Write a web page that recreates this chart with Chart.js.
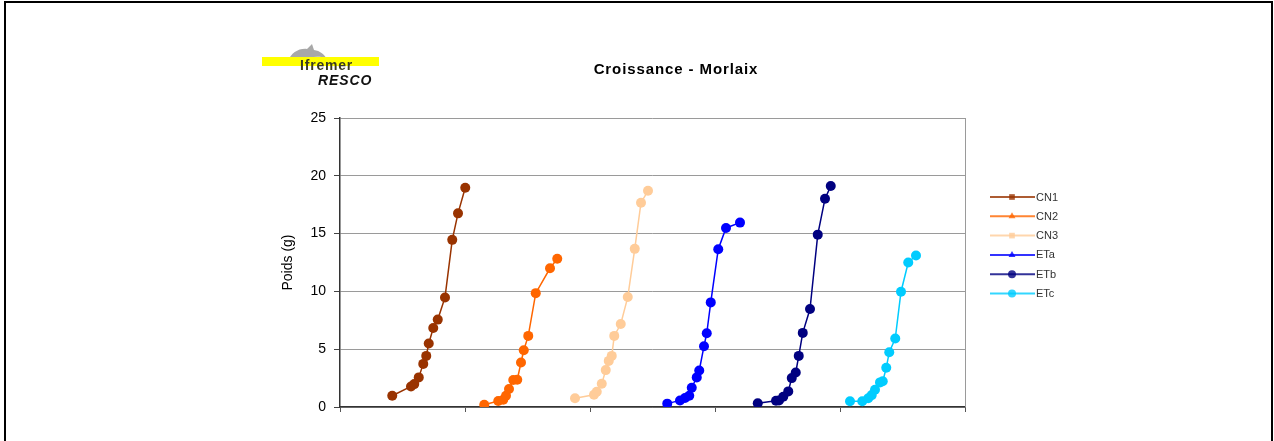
<!DOCTYPE html>
<html>
<head>
<meta charset="utf-8">
<script src="https://cdn.jsdelivr.net/npm/chart.js@4/dist/chart.umd.min.js"></script>
<style>
    html, body { margin: 0; padding: 0; background: #fff; }
    #cadre { position: relative; width: 1274px; height: 441px; overflow: hidden; font-family: "Liberation Sans", Arial, sans-serif; }
    #bord { position: absolute; left: 4px; top: 1px; width: 1269px; height: 470px; border: 2px solid #000; border-bottom: none; box-sizing: border-box; pointer-events: none; }
    #titre { position: absolute; left: 536px; width: 280px; top: 60px; text-align: center; font-size: 15px; font-weight: bold; letter-spacing: 0.9px; color: #000; }
    #logo-bande { position: absolute; left: 262px; top: 57px; width: 117px; height: 9px; background: #ffff00; }
    #logo-dauphin { position: absolute; left: 287px; top: 43px; }
    #logo-ifremer { position: absolute; left: 300px; top: 57px; font-size: 14px; font-weight: bold; color: #3a3a20; letter-spacing: 0.8px; }
    #logo-resco { position: absolute; left: 318px; top: 72px; font-size: 14px; font-weight: bold; font-style: italic; color: #111; letter-spacing: 0.9px; }
</style>
</head>
<body>
<div id="cadre">
    <canvas id="croissance" width="1274" height="441"></canvas>
    <svg id="logo-dauphin" width="40" height="20" viewBox="0 0 40 20">
        <path d="M1 18 C4 10 12 5 20 6 L25 1 L27 7 C33 8 37 11 39 15 C33 13 28 14 22 14 C15 14 9 15 1 18 Z" fill="#a8a8a8"/>
    </svg>
    <div id="logo-bande"></div>
    <div id="logo-ifremer">Ifremer</div>
    <div id="logo-resco">RESCO</div>
    <div id="titre">Croissance - Morlaix</div>
    <div id="bord"></div>
</div>

<script>
/****************** DONNEES **********************/

var series = ["CN1", "CN2", "CN3", "ETa", "ETb", "ETc"];
var couleurs = ["#993300", "#FF6600", "#FFCC99", "#0000FF", "#000080", "#00CCFF"];
var symbolesLegende = ["rect", "triangle", "rect", "triangle", "circle", "circle"];
var yTicks = [0, 5, 10, 15, 20, 25];

var cn1X = [41.8, 56.8, 59.4, 63, 66.6, 69, 71, 74.6, 78.2, 84, 89.8, 94.4, 100.2];
var cn1Y = [0.97, 1.78, 1.98, 2.56, 3.73, 4.42, 5.49, 6.84, 7.56, 9.48, 14.46, 16.75, 18.97];

var cn2X = [115.4, 126.6, 130.6, 132.8, 135.2, 138.6, 141.8, 144.8, 147, 150.6, 156.6, 168, 173.8];
var cn2Y = [0.2, 0.52, 0.63, 0.97, 1.55, 2.33, 2.36, 3.85, 4.91, 6.15, 9.85, 12.0, 12.82];

var cn3X = [188, 203.2, 205.4, 209.4, 212.6, 215, 217.4, 219.4, 224.6, 230.2, 235.8, 240.8, 246.4];
var cn3Y = [0.75, 1.06, 1.32, 2.01, 3.19, 3.99, 4.42, 6.15, 7.18, 9.51, 13.68, 17.67, 18.7];

var etaX = [261.8, 272, 276, 279.4, 281.4, 285.4, 287.4, 291.2, 293.4, 296.6, 302.6, 308.8, 320];
var etaY = [0.29, 0.57, 0.78, 0.98, 1.67, 2.56, 3.16, 5.26, 6.38, 9.05, 13.65, 15.49, 15.95];

var etbX = [334.2, 348.8, 351.2, 354.6, 358.6, 361.4, 364.6, 367, 370.2, 376, 382.2, 388, 392.6];
var etbY = [0.32, 0.54, 0.56, 0.89, 1.35, 2.5, 2.99, 4.42, 6.41, 8.47, 14.91, 18.02, 19.11];

var etcX = [408, 417.8, 422.6, 425.4, 428, 432, 434.2, 437, 439.4, 444.2, 448.8, 454.6, 460.8];
var etcY = [0.49, 0.49, 0.75, 1.03, 1.49, 2.13, 2.22, 3.39, 4.74, 5.92, 9.97, 12.5, 13.1];

var valeursX = [cn1X, cn2X, cn3X, etaX, etbX, etcX];
var valeursY = [cn1Y, cn2Y, cn3Y, etaY, etbY, etcY];

/****************** FONCTION **********************/

function points(xs, ys)
{
    return xs.map(function (x, i) {
        return { x: x, y: ys[i] };
    });
}

/** Bordure droite de la zone de tracé */
var bordurePlugin = {
    id: 'bordure',
    beforeDatasetsDraw: function (chart) {
        var ctx = chart.ctx;
        var a = chart.chartArea;
        ctx.save();
        ctx.strokeStyle = '#9a9a9a';
        ctx.lineWidth = 1;
        ctx.beginPath();
        ctx.moveTo(a.right + 0.5, a.top);
        ctx.lineTo(a.right + 0.5, a.bottom);
        ctx.stroke();
        ctx.restore();
    }
};

/** Légende façon Excel : trait + symbole */
var legendePlugin = {
    id: 'legende',
    afterDraw: function (chart) {
        var ctx = chart.ctx;
        var a = chart.chartArea;
        var x0 = a.right + 25;
        var y0 = 197;
        chart.data.datasets.forEach(function (ds, i) {
            var y = y0 + i * 19.3;
            ctx.save();
            ctx.globalAlpha = 0.8;
            ctx.strokeStyle = ds.borderColor;
            ctx.fillStyle = ds.borderColor;
            ctx.lineWidth = 2;
            ctx.beginPath();
            ctx.moveTo(x0, y);
            ctx.lineTo(x0 + 45, y);
            ctx.stroke();
            Chart.helpers.drawPoint(ctx, { pointStyle: symbolesLegende[i], radius: 4, borderWidth: 0, rotation: 0 }, x0 + 22, y);
            ctx.globalAlpha = 1;
            ctx.fillStyle = '#333';
            ctx.font = '11px "Liberation Sans", Arial, sans-serif';
            ctx.textBaseline = 'middle';
            ctx.fillText(ds.label, x0 + 46, y + 0.5);
            ctx.restore();
        });
    }
};

function makeCroissanceChart()
{
    var datasets = series.map(function (nom, i) {
        return {
            label: nom,
            data: points(valeursX[i], valeursY[i]),
            borderColor: couleurs[i],
            backgroundColor: couleurs[i],
            borderWidth: 1.5,
            pointRadius: 5,
            pointHoverRadius: 5,
            pointBorderWidth: 0,
            pointStyle: 'circle',
            tension: 0
        };
    });

    var ctx = document.getElementById("croissance").getContext("2d");
    new Chart(ctx, {
        type: 'line',
        data: { datasets: datasets },
        plugins: [bordurePlugin, legendePlugin],
        options: {
            responsive: false,
            animation: false,
            layout: {
                padding: { left: 280, right: 309, top: 118, bottom: 29 }
            },
            plugins: {
                legend: { display: false },
                title: { display: false },
                tooltip: { enabled: false }
            },
            scales: {
                x: {
                    type: 'linear',
                    min: 0,
                    max: 500,
                    ticks: { stepSize: 100, display: false },
                    grid: {
                        drawOnChartArea: false,
                        drawTicks: true,
                        tickLength: 5,
                        tickColor: '#555'
                    },
                    border: { color: '#333', width: 1.5 }
                },
                y: {
                    min: 0,
                    max: 25,
                    afterBuildTicks: function (scale) {
                        scale.ticks = yTicks.map(function (v) { return { value: v }; });
                    },
                    afterFit: function (scale) {
                        scale.width = 60;
                    },
                    ticks: {
                        padding: 8,
                        color: '#000',
                        font: { family: '"Liberation Sans", Arial, sans-serif', size: 14 }
                    },
                    grid: {
                        color: '#9a9a9a',
                        tickColor: '#444',
                        tickLength: 6
                    },
                    border: { color: '#333', width: 1.5 },
                    title: {
                        display: true,
                        text: 'Poids (g)',
                        color: '#000',
                        padding: 0,
                        font: { family: '"Liberation Sans", Arial, sans-serif', size: 14 }
                    }
                }
            }
        }
    });
}

makeCroissanceChart();
</script>
</body>
</html>
